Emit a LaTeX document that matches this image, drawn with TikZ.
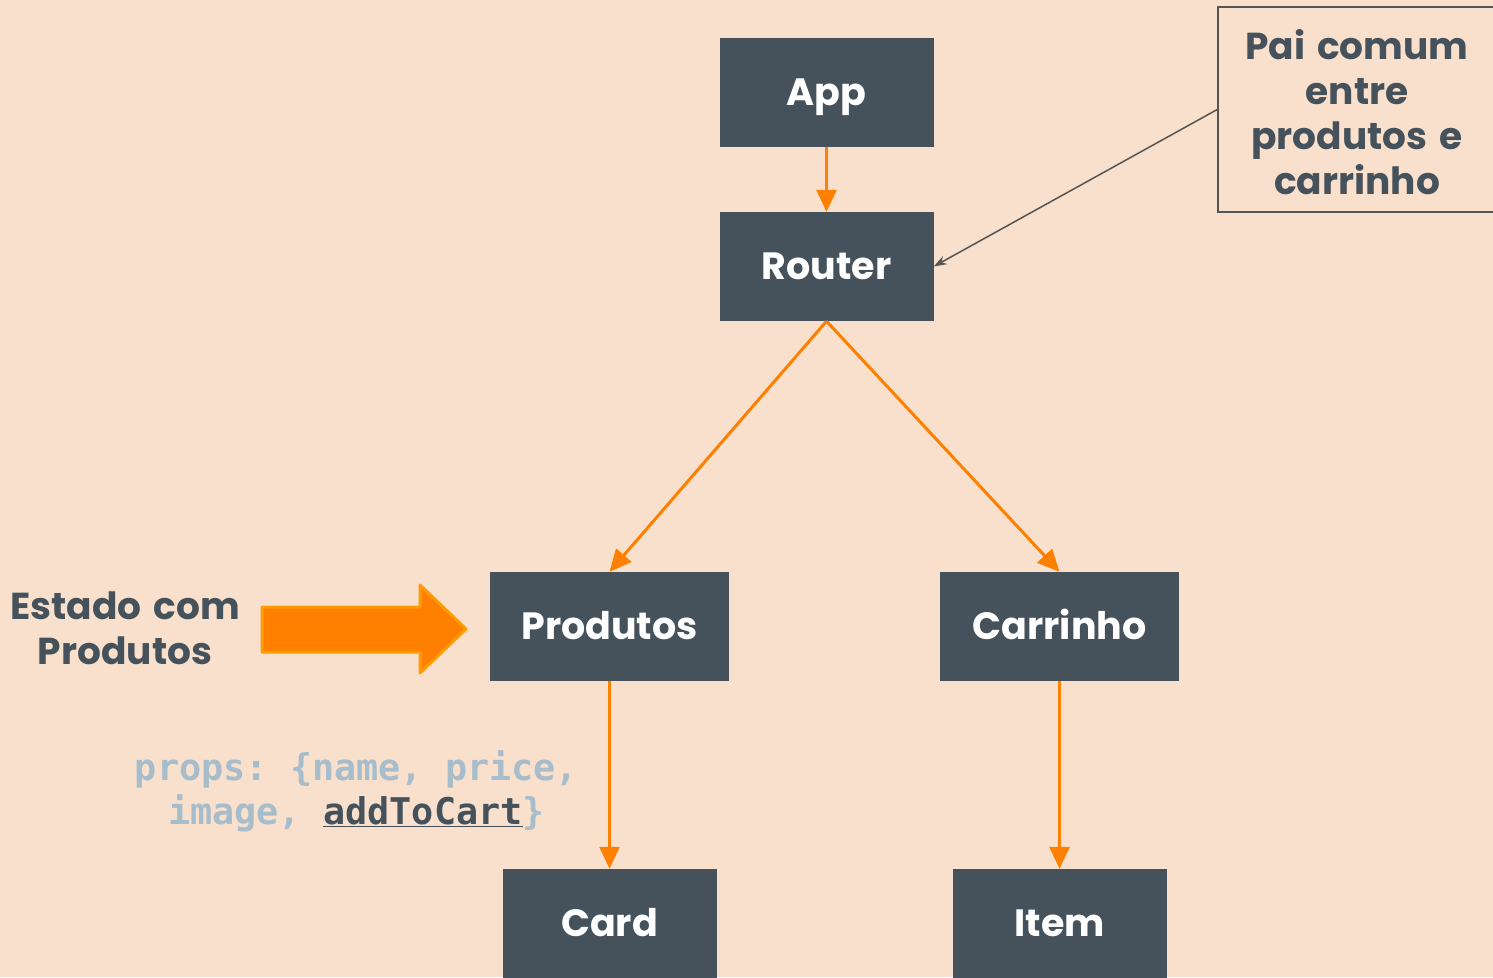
\documentclass[tikz,border=0pt]{standalone}
\usepackage{fontspec}
\setmainfont{Poppins}[WordSpace=1.5]
\setmonofont{DejaVu Sans Mono}
\usetikzlibrary{arrows.meta,positioning}

\definecolor{bgpeach}{HTML}{F8E0CC}
\definecolor{slate}{HTML}{46525B}
\definecolor{fluo}{HTML}{FF8000}
\definecolor{fluoedge}{HTML}{FF9A00}
\definecolor{propgray}{HTML}{A7BDCB}
\definecolor{pointer}{HTML}{555555}

\tikzset{
  comp/.style={fill=slate, text=white, font=\fontsize{38}{44}\selectfont\bfseries,
    minimum width=214pt, minimum height=109pt, inner sep=0pt,
    text height=26.6pt, text depth=0pt},
  widecomp/.style={comp, minimum width=239pt},
  flow/.style={draw=fluo, line width=3pt, -{Triangle[length=22pt,width=20pt]}},
  note/.style={text=slate, font=\fontsize{37.5}{45}\selectfont\bfseries, align=center},
}

\begin{document}
\begin{tikzpicture}[x=1pt, y=-1pt]

\useasboundingbox[fill=bgpeach] (0,0) rectangle (1493,977);

\node [comp] (app) at (826.5, 92.5) {App};
\node [comp] (router) at (826.5, 266.5) {Router};
\node [widecomp] (produtos) at (609.5, 626.5) {Produtos};
\node [widecomp] (carrinho) at (1059.5, 626.5) {Carrinho};
\node [comp] (card) at (609.5, 923.5) {Card};
\node [comp] (item) at (1059.5, 923.5) {Item};

\draw[flow] (app.south)--(router.north);
\draw[flow] (router.south)--(produtos.north);
\draw[flow] (router.south)--(carrinho.north);
\draw[flow] (produtos.south)--(card.north);
\draw[flow] (carrinho.south)--(item.north);

% nota do pai comum
\node [draw=pointer, line width=1.5pt, minimum width=292pt, minimum height=205pt] (pai) at (1364, 109.5) {};
\node [note] (paitext) at ([xshift=-7pt, yshift=-3pt]pai.center) {Pai comum\\entre\\produtos e\\carrinho};
\draw[pointer, line width=1.5pt, -{Stealth[length=13pt,width=9pt]}] (pai.west)--(router.east);

% estado
\node [note] (estado) at (125, 628) {Estado com\\Produtos};
\draw[fill=fluo, draw=fluoedge, line width=3pt, line join=round]
  (262,607)--(420,607)--(420,585)--(466,629)--(420,673)--(420,652)--(262,652)--cycle;

% props
\node [align=center, font=\fontsize{36.8}{44}\selectfont\ttfamily\bfseries, text=propgray] (props) at (356.5, 791)
  {props: \{name, price,\\image, \textcolor{slate}{\underline{addToCart}}\}};

\end{tikzpicture}
\end{document}
